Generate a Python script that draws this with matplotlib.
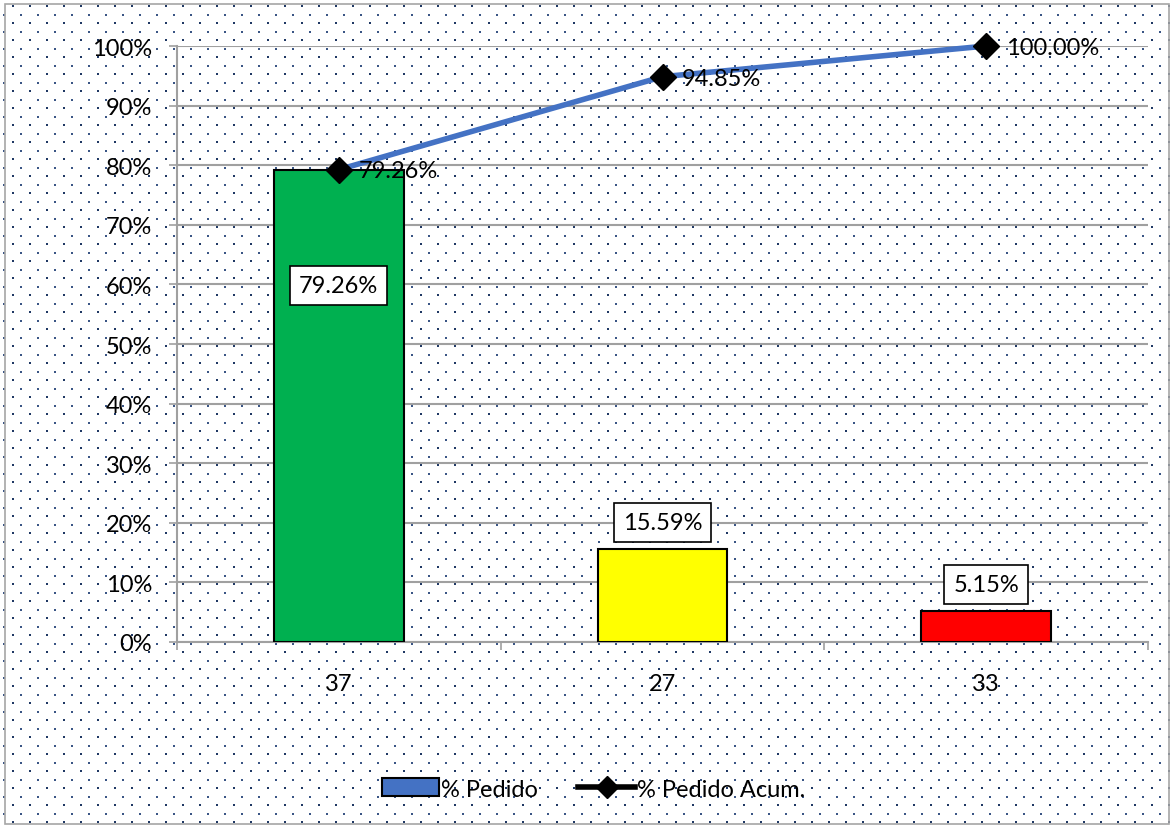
import numpy as np
import matplotlib
matplotlib.use("Agg")
import matplotlib.pyplot as plt
from matplotlib.patches import Patch, Rectangle
from matplotlib.lines import Line2D

categories = ["37", "27", "33"]
pct_pedido = [79.26, 15.59, 5.15]
pct_acum = [79.26, 94.85, 100.00]
bar_colors = ["#00B050", "#FFFF00", "#FF0000"]
yticks = [0, 10, 20, 30, 40, 50, 60, 70, 80, 90, 100]

plt.rcParams['font.family'] = ['Lato', 'DejaVu Sans']
FS = 17
W, H = 1174, 828
fig = plt.figure(figsize=(W / 100, H / 100), dpi=100)

# background dot pattern
bg = fig.add_axes([0, 0, 1, 1], zorder=-10)
bg.set_xlim(0, W)
bg.set_ylim(H, 0)
bg.axis('off')
bx, by, sx, sy = [], [], [], []
for yy in np.arange(7.3, H, 17):
    for xx in np.arange(12.7, W, 17):
        bx.append(xx); by.append(yy)
for yy in np.arange(15.8, H, 17):
    for xx in np.arange(4.2, W, 17):
        sx.append(xx); sy.append(yy)
bg.scatter(bx, by, s=2.6, c="#1F3864", marker='s', linewidths=0)
bg.scatter(sx, sy, s=1.4, c="#3A5585", marker='s', linewidths=0)
bg.add_patch(Rectangle((5, 5), W - 10, H - 8, fill=False, edgecolor="#A6A6A6", lw=1.2))

ax = fig.add_axes([177 / W, 185 / H, (1148 - 177) / W, (643 - 47) / H])
ax.set_facecolor('none')
x = np.arange(len(categories))
bars = ax.bar(x, pct_pedido, width=0.4, color=bar_colors, edgecolor='black', linewidth=1.5, zorder=3)
ax.plot(x, pct_acum, color="#4472C4", lw=4, zorder=4, clip_on=False)
ax.plot(x, pct_acum, linestyle='none', marker='D', ms=13, color='black', zorder=5, clip_on=False)

ax.set_xlim(-0.5, 2.5)
ax.set_ylim(0, 100)
ax.set_yticks(yticks)
ax.set_yticklabels([f"{v}%" for v in yticks], fontsize=FS)
ax.yaxis.grid(True, color="#A0A0A0", lw=1.5, zorder=0)
ax.set_axisbelow(True)
ax.set_xticks(x)
ax.set_xticklabels(categories, fontsize=FS)
ax.set_xticks([-0.5, 0.5, 1.5, 2.5], minor=True)
ax.tick_params(axis='x', which='major', length=0, pad=22)
ax.tick_params(axis='x', which='minor', length=6, color="#A0A0A0", width=1.2)
ax.tick_params(axis='y', length=6, color="#A0A0A0", width=1.2, pad=12)
for s in ['top', 'right']:
    ax.spines[s].set_visible(False)
for s in ['left', 'bottom']:
    ax.spines[s].set_color("#A0A0A0")
    ax.spines[s].set_linewidth(1.5)

box = dict(boxstyle='square,pad=0.38', facecolor='white', edgecolor='black', lw=1.2)
# bar labels
ax.text(x[0], pct_pedido[0] - 19.5, f"{pct_pedido[0]:.2f}%", ha='center', va='center', fontsize=FS, bbox=box, zorder=6)
for i in [1, 2]:
    ax.text(x[i], pct_pedido[i] + 4.5, f"{pct_pedido[i]:.2f}%", ha='center', va='center', fontsize=FS, bbox=box, zorder=6)
# line labels
for i in range(3):
    ax.annotate(f"{pct_acum[i]:.2f}%", (x[i], pct_acum[i]), xytext=(14, -1), textcoords='offset points',
                ha='left', va='center', fontsize=FS, zorder=6, annotation_clip=False)

handles = [Patch(facecolor="#4472C4", edgecolor='black', lw=1.5),
           Line2D([0], [0], color='black', lw=4, marker='D', ms=11)]
fig.legend(handles, ["% Pedido", "% Pedido Acum."], loc='center', bbox_to_anchor=(594 / W, 1 - 790 / H),
           ncol=2, frameon=False, fontsize=FS, handlelength=2.4, handleheight=0.8,
           handletextpad=0.1, columnspacing=1.7)

fig.savefig("out.png", dpi=100)
